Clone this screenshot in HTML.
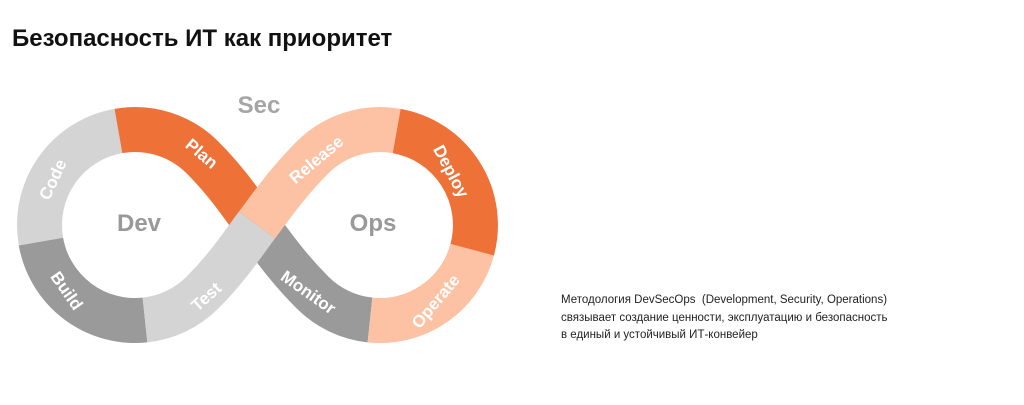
<!DOCTYPE html>
<html><head><meta charset="utf-8"><style>
body{margin:0;width:1024px;height:405px;background:#fff;overflow:hidden;position:relative;font-family:"Liberation Sans","Noto Sans CJK SC",sans-serif}
h1{position:absolute;left:12px;top:25px;margin:0;font-size:24px;font-weight:bold;color:#111}
p{position:absolute;left:561px;top:292px;margin:0;font-size:11.5px;line-height:17.5px;color:#222}
svg{position:absolute;left:0;top:0}
</style></head><body>
<h1>Безопасность ИТ как приоритет</h1>
<svg width="1024" height="405" viewBox="0 0 1024 405">
<g fill="none" stroke-width="45" stroke-linecap="butt">
<path d="M40.95,241.6 A95.5,95.5 0 0 1 118.4,131" stroke="#d4d4d4"/>
<path d="M145,320 A95.5,95.5 0 0 1 40.95,241.6" stroke="#9a9a9a"/>
<path d="M118.4,131 A95.5,95.5 0 0 1 202.5,157.5 C227.5,182.5 242,205 257,225" stroke="#ee7238"/>
<path d="M257,225 C272,245 287.5,267.5 312.5,292.5 A95.5,95.5 0 0 0 370,320" stroke="#9a9a9a"/>
<path d="M472.2,249.7 A95.5,95.5 0 0 1 370,320" stroke="#fdc1a3"/>
<path d="M396.6,131 A95.5,95.5 0 0 1 472.2,249.7" stroke="#ee7238"/>
<path d="M145,320 A95.5,95.5 0 0 0 202.5,292.5 C227.5,267.5 242,245 257,225" stroke="#d4d4d4"/>
<path d="M257,225 C272,205 287.5,182.5 312.5,157.5 A95.5,95.5 0 0 1 396.6,131" stroke="#fdc1a3"/>
</g>
<g font-weight="bold" font-size="17" fill="#fff" text-anchor="middle" font-family="Liberation Sans,sans-serif">
<text transform="translate(58,182) rotate(-65)">Code</text>
<text transform="translate(198,158) rotate(40)">Plan</text>
<text transform="translate(320,164) rotate(-40)">Release</text>
<text transform="translate(446,174) rotate(62)">Deploy</text>
<text transform="translate(62,294) rotate(55)">Build</text>
<text transform="translate(210,301) rotate(-42)">Test</text>
<text transform="translate(305,297) rotate(35)">Monitor</text>
<text transform="translate(440,305) rotate(-50)">Operate</text>
</g>
<g font-weight="bold" font-size="24" fill="#999" text-anchor="middle" font-family="Liberation Sans,sans-serif">
<text x="139" y="231">Dev</text>
<text x="373" y="231">Ops</text>
<text x="259" y="113" fill="#a5a5a5">Sec</text>
</g>
</svg>
<p>Методология DevSecOps&nbsp; (Development, Security, Operations)<br>связывает создание ценности, эксплуатацию и безопасность<br>в единый и устойчивый ИТ-конвейер</p>
</body></html>
